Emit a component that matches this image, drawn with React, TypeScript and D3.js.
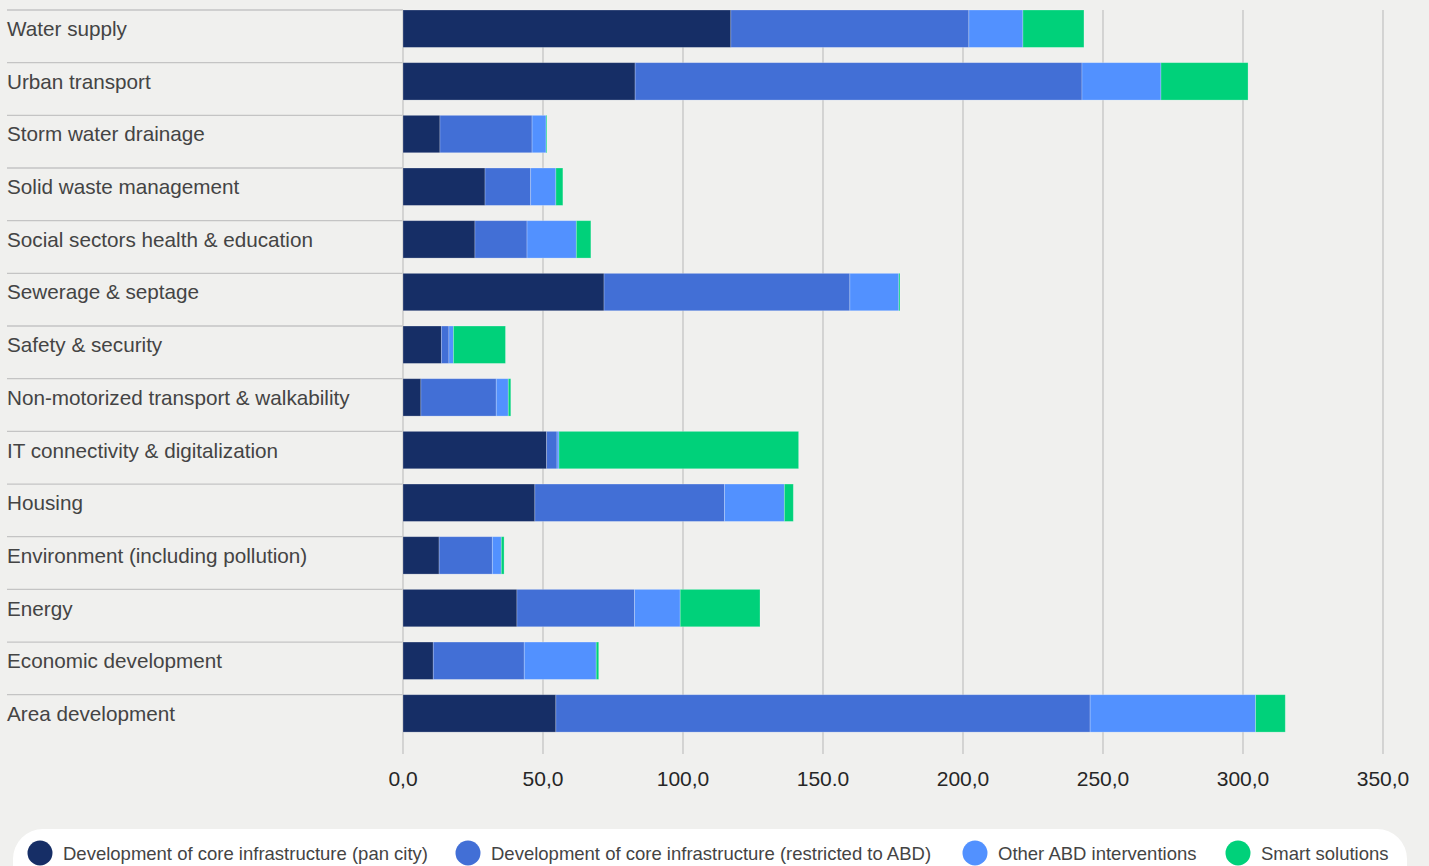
import React from "react";
import * as d3 from "d3";

const categories = [
  "Water supply",
  "Urban transport",
  "Storm water drainage",
  "Solid waste management",
  "Social sectors health & education",
  "Sewerage & septage",
  "Safety & security",
  "Non-motorized transport & walkability",
  "IT connectivity & digitalization",
  "Housing",
  "Environment (including pollution)",
  "Energy",
  "Economic development",
  "Area development",
];

const panCity = [117.1, 82.9, 13.2, 29.3, 25.7, 71.8, 13.7, 6.4, 51.3, 47.1, 12.9, 40.7, 10.8, 54.6];
const restrictedABD = [85.0, 159.6, 32.9, 16.3, 18.6, 87.8, 2.7, 26.9, 3.7, 67.7, 19.0, 42.0, 32.5, 190.8];
const otherABD = [19.3, 28.2, 5.0, 9.0, 17.6, 17.5, 1.6, 4.3, 0.7, 21.4, 3.2, 16.3, 25.7, 59.1];
const smart = [21.8, 31.1, 0.3, 2.5, 5.2, 0.4, 18.6, 0.9, 85.6, 3.2, 1.0, 28.5, 0.9, 10.6];

const seriesKeys = ["pan", "restricted", "other", "smart"];
const seriesNames = [
  "Development of core infrastructure (pan city)",
  "Development of core infrastructure (restricted to ABD)",
  "Other ABD interventions",
  "Smart solutions",
];
const seriesColors = ["#162e66", "#426fd6", "#5291ff", "#00d17a"];

const tickValues = [0, 50, 100, 150, 200, 250, 300, 350];
const tickLabels = ["0,0", "50,0", "100,0", "150.0", "200,0", "250,0", "300,0", "350,0"];

const legendX = [40, 468, 975, 1238];

const W = 1429;
const H = 866;
const FONT = "'Liberation Sans', Arial, Helvetica, sans-serif";

export default function App() {
  const rows = categories.map((c, i) => ({
    cat: c,
    pan: panCity[i],
    restricted: restrictedABD[i],
    other: otherABD[i],
    smart: smart[i],
  }));
  const stacked = d3.stack<any>().keys(seriesKeys)(rows);

  const x = d3.scaleLinear().domain([0, 350]).range([403, 1383]);
  const rowStep = 52.67;
  const y = d3
    .scaleBand<string>()
    .domain(categories)
    .range([10, 10 + rowStep * categories.length])
    .paddingInner(0)
    .paddingOuter(0);
  const barH = y.bandwidth() * 0.71;
  const axisBottom = 754;

  return (
    <svg
      width={W}
      height={H}
      style={{ position: "fixed", left: 0, top: 0, background: "#f0f0ee", fontFamily: FONT }}
    >
      <rect x={0} y={0} width={W} height={H} fill="#f0f0ee" />
      {/* gridlines */}
      {tickValues.map((t) => (
        <line
          key={"g" + t}
          x1={x(t)}
          x2={x(t)}
          y1={10}
          y2={axisBottom}
          stroke="#c4c4c4"
          strokeWidth={1.3}
        />
      ))}
      {/* row separators */}
      {categories.map((c) => (
        <line
          key={"s" + c}
          x1={7}
          x2={x(0)}
          y1={y(c)}
          y2={y(c)}
          stroke="#c4c4c4"
          strokeWidth={1.3}
        />
      ))}
      {/* category labels */}
      {categories.map((c) => (
        <text
          key={"l" + c}
          x={7}
          y={(y(c) as number) + barH / 2}
          dy="0.36em"
          fontSize={20.7}
          fill="#444"
        >
          {c}
        </text>
      ))}
      {/* bars */}
      {stacked.map((s, si) => (
        <g key={s.key} fill={seriesColors[si]}>
          {s.map((d: any, i: number) => {
            const w = x(d[1]) - x(d[0]);
            if (w <= 0) return null;
            return (
              <rect
                key={i}
                x={x(d[0])}
                y={y(categories[i])}
                width={w}
                height={barH}
                stroke="rgba(255,255,255,0.3)"
                strokeWidth={0.8}
              />
            );
          })}
        </g>
      ))}
      {/* tick labels */}
      {tickValues.map((t, i) => (
        <text
          key={"t" + t}
          x={x(t)}
          y={786}
          textAnchor="middle"
          fontSize={21}
          fill="#262626"
        >
          {tickLabels[i]}
        </text>
      ))}
      {/* legend */}
      <rect x={13} y={829} width={1394} height={80} rx={30} ry={30} fill="#ffffff" />
      {seriesNames.map((n, i) => (
        <g key={"lg" + i}>
          <circle cx={legendX[i]} cy={853} r={12.5} fill={seriesColors[i]} />
          <text x={legendX[i] + 23} y={853} dy="0.36em" fontSize={18.5} fill="#444">
            {n}
          </text>
        </g>
      ))}
    </svg>
  );
}
